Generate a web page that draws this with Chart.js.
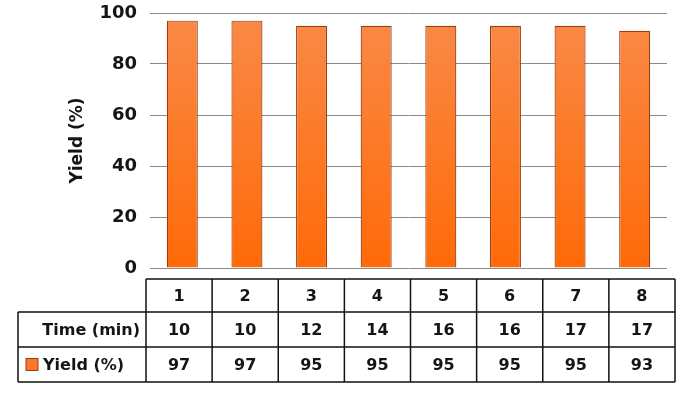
<!DOCTYPE html>
<html>
<head>
<meta charset="utf-8">
<script src="https://cdn.jsdelivr.net/npm/chart.js@4"></script>
<style>
  body { margin: 0; background: #fff; }
  #wrap { width: 688px; height: 411px; }
</style>
</head>
<body>
<div id="wrap"><canvas id="yieldChart"></canvas></div>
<script>
const runs = ["1", "2", "3", "4", "5", "6", "7", "8"];
const times = [10, 10, 12, 14, 16, 16, 17, 17];
const yields = [97, 97, 95, 95, 95, 95, 95, 93];
const yTicks = [0, 20, 40, 60, 80, 100];

const FONT = "'DejaVu Sans', sans-serif";
const TEXT = "#151515";

// data table under the bars, Excel style
const dataTable = {
    id: "dataTable",
    afterDraw(chart) {
        const ctx = chart.ctx;
        const area = chart.chartArea;
        const left = area.left - 4;
        const right = area.right + 8;
        const colW = (right - left) / runs.length;
        const labelLeft = 18;
        const rows = [279, 312, 347, 382];

        ctx.save();
        ctx.strokeStyle = "#111";
        ctx.lineWidth = 1.5;

        // header row (no label cell)
        ctx.beginPath();
        ctx.moveTo(left, rows[0]); ctx.lineTo(right, rows[0]);
        ctx.moveTo(labelLeft, rows[1]); ctx.lineTo(right, rows[1]);
        ctx.moveTo(labelLeft, rows[2]); ctx.lineTo(right, rows[2]);
        ctx.moveTo(labelLeft, rows[3]); ctx.lineTo(right, rows[3]);
        ctx.moveTo(labelLeft, rows[1]); ctx.lineTo(labelLeft, rows[3]);
        for (let i = 0; i <= runs.length; i++) {
            const x = left + i * colW;
            ctx.moveTo(x, rows[0]); ctx.lineTo(x, rows[3]);
        }
        ctx.stroke();

        ctx.fillStyle = TEXT;
        ctx.font = "bold 16px " + FONT;
        ctx.textAlign = "center";
        ctx.textBaseline = "middle";
        runs.forEach((r, i) => {
            const cx = left + (i + 0.5) * colW;
            ctx.fillText(r, cx, (rows[0] + rows[1]) / 2 + 1);
            ctx.fillText(String(times[i]), cx, (rows[1] + rows[2]) / 2 + 1);
            ctx.fillText(String(yields[i]), cx, (rows[2] + rows[3]) / 2 + 1);
        });

        ctx.textAlign = "right";
        ctx.fillText("Time (min)", left - 6, (rows[1] + rows[2]) / 2 + 1);

        // legend swatch + series name
        const sy = (rows[2] + rows[3]) / 2;
        ctx.fillStyle = "#fb7a2a";
        ctx.fillRect(26, sy - 6, 12, 12);
        ctx.strokeStyle = "#9c3d10";
        ctx.lineWidth = 1;
        ctx.strokeRect(26, sy - 6, 12, 12);
        ctx.fillStyle = TEXT;
        ctx.textAlign = "left";
        ctx.fillText("Yield (%)", 43, sy + 1);
        ctx.restore();
    }
};

new Chart(document.getElementById("yieldChart"), {
    type: "bar",
    data: {
        labels: runs,
        datasets: [{
            label: "Yield (%)",
            data: yields,
            backgroundColor: (c) => {
                const area = c.chart.chartArea;
                if (!area) return "#fb7a2a";
                const g = c.chart.ctx.createLinearGradient(0, area.top, 0, area.bottom);
                g.addColorStop(0, "#f98a48");
                g.addColorStop(1, "#ff6a08");
                return g;
            },
            borderColor: "#9c3d10",
            borderWidth: 1.2,
            barPercentage: 0.48,
            categoryPercentage: 1
        }]
    },
    options: {
        responsive: true,
        maintainAspectRatio: false,
        animation: false,
        layout: { padding: { top: 13, right: 21, bottom: 143, left: 0 } },
        plugins: {
            legend: { display: false },
            tooltip: { enabled: false }
        },
        scales: {
            x: { display: false },
            y: {
                min: 0,
                max: 100,
                afterBuildTicks: (scale) => { scale.ticks = yTicks.map(v => ({ value: v })); },
                afterFit: (scale) => {
                    scale.width = 150;
                    scale.paddingTop = 0;
                    scale.paddingBottom = 0;
                },
                border: { display: false },
                grid: { color: "#8a8a8a", lineWidth: 1, drawTicks: false },
                ticks: {
                    padding: 13,
                    color: TEXT,
                    font: { family: FONT, size: 18, weight: "bold" }
                },
                title: {
                    display: true,
                    text: "Yield (%)",
                    color: TEXT,
                    padding: { top: 67, bottom: 0 },
                    font: { family: FONT, size: 17, weight: "bold" }
                }
            }
        }
    },
    plugins: [dataTable]
});
</script>
</body>
</html>
